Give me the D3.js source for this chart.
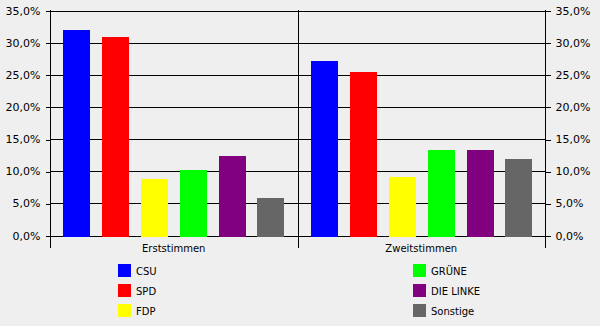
<!DOCTYPE html>
<html>
<head>
<meta charset="utf-8">
<script src="https://cdn.jsdelivr.net/npm/d3@7"></script>
<style>
  html, body { margin: 0; padding: 0; background: #efefef; }
  svg { display: block; }
  text { font-family: "DejaVu Sans", Verdana, sans-serif; fill: #000; }
</style>
</head>
<body>
<svg id="chart" width="600" height="326"></svg>
<script>
// Stimmenanteile in Prozent
const categories = ["Erststimmen", "Zweitstimmen"];
const parties = ["CSU", "SPD", "FDP", "GRÜNE", "DIE LINKE", "Sonstige"];
const partyColors = ["#0000ff", "#ff0000", "#ffff00", "#00ff00", "#800080", "#666666"];
const erststimmen = [32.0, 30.9, 8.8, 10.2, 12.4, 5.8];
const zweitstimmen = [27.1, 25.4, 9.1, 13.3, 13.3, 11.9];
const yTicks = [0, 5, 10, 15, 20, 25, 30, 35];

const seriesByCategory = [erststimmen, zweitstimmen];

const svg = d3.select("#chart");
const plotLeft = 50, plotRight = 545, plotTop = 10.5, plotBottom = 235.5;

const y = d3.scaleLinear().domain([0, 35]).range([plotBottom, plotTop]);
const x0 = d3.scaleBand().domain(categories).range([plotLeft, plotRight]).padding(0);
const x1 = d3.scaleBand().domain(parties).range([0, x0.bandwidth()])
  .paddingInner(0.3).paddingOuter(0.33);
const color = d3.scaleOrdinal().domain(parties).range(partyColors);

const fmt = d => d3.format(".1f")(d).replace(".", ",") + "%";

// horizontal gridlines
svg.append("g")
  .selectAll("line")
  .data(yTicks)
  .join("line")
  .attr("x1", plotLeft).attr("x2", plotRight)
  .attr("y1", d => Math.round(y(d)) + 0.5).attr("y2", d => Math.round(y(d)) + 0.5)
  .attr("stroke", "#000").attr("shape-rendering", "crispEdges");

// bars
const groups = svg.append("g")
  .selectAll("g")
  .data(categories)
  .join("g")
  .attr("transform", d => `translate(${x0(d)},0)`);

groups.selectAll("rect")
  .data((c, i) => parties.map((p, j) => ({ party: p, value: seriesByCategory[i][j] })))
  .join("rect")
  .attr("x", d => Math.round(x1(d.party)))
  .attr("width", Math.round(x1.bandwidth()))
  .attr("y", d => Math.round(y(d.value)))
  .attr("height", d => Math.round(y(0)) + 0.5 - Math.round(y(d.value)))
  .attr("fill", d => color(d.party))
  .attr("shape-rendering", "crispEdges");

// left and right value axes
const axisL = d3.axisLeft(y).tickValues(yTicks).tickSize(5).tickPadding(5).tickFormat(fmt);
const axisR = d3.axisRight(y).tickValues(yTicks).tickSize(5).tickPadding(5).tickFormat(fmt);

function styleAxis(g) {
  g.select(".domain").remove();
  g.selectAll("line").attr("stroke", "#000").attr("shape-rendering", "crispEdges")
    .attr("transform", "translate(0,0.5)");
  g.selectAll("text").attr("font-size", 11).attr("font-family", "DejaVu Sans, sans-serif");
  g.attr("font-size", null).attr("font-family", null);
}
svg.append("g").attr("transform", `translate(${plotLeft + 0.5},0)`).call(axisL).call(styleAxis);
svg.append("g").attr("transform", `translate(${plotRight + 0.5},0)`).call(axisR).call(styleAxis);

// vertical axis lines and category separators
const dividers = [plotLeft, x0("Zweitstimmen"), plotRight];
svg.append("g")
  .selectAll("line")
  .data(dividers)
  .join("line")
  .attr("x1", d => Math.round(d) + 0.5).attr("x2", d => Math.round(d) + 0.5)
  .attr("y1", plotTop - 0.5).attr("y2", plotBottom + 12.5)
  .attr("stroke", "#000").attr("shape-rendering", "crispEdges");

// category labels
svg.append("g")
  .selectAll("text")
  .data(categories)
  .join("text")
  .attr("x", d => x0(d) + x0.bandwidth() / 2)
  .attr("y", 252)
  .attr("text-anchor", "middle")
  .attr("font-family", "DejaVu Sans Condensed, DejaVu Sans, sans-serif")
  .attr("font-size", 10)
  .text(d => d);

// legend
const legendCols = [118, 413];
const legend = svg.append("g")
  .selectAll("g")
  .data(parties)
  .join("g")
  .attr("transform", (d, i) => `translate(${legendCols[Math.floor(i / 3)]},${264 + (i % 3) * 20})`);

legend.append("rect")
  .attr("width", 13).attr("height", 13)
  .attr("fill", d => color(d));

legend.append("text")
  .attr("x", 18).attr("y", 10.5)
  .attr("font-family", "DejaVu Sans Condensed, DejaVu Sans, sans-serif")
  .attr("font-size", 10)
  .text(d => d);
</script>
</body>
</html>
